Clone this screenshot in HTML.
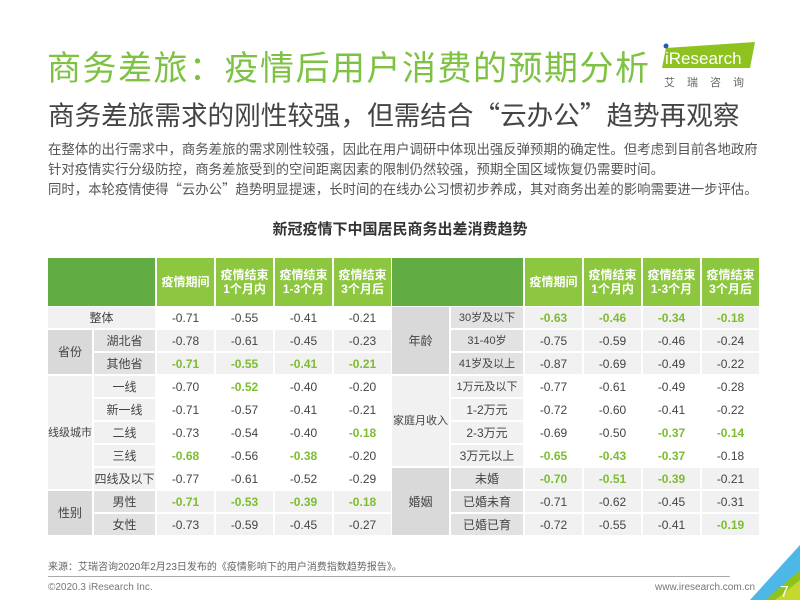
<!DOCTYPE html>
<html><head><meta charset="utf-8">
<style>
*{margin:0;padding:0;box-sizing:border-box}
body{width:800px;height:600px;position:relative;background:#fff;font-family:"Liberation Sans","Noto Sans CJK SC",sans-serif;overflow:hidden}
.a{position:absolute;white-space:nowrap}
.z{font-family:"Noto Sans CJK SC",sans-serif}
.c{position:absolute;display:flex;align-items:center;justify-content:center;text-align:center;font-size:12px;color:#444;line-height:14px;white-space:nowrap}
.g{color:#7cbd2f;font-weight:bold}
.h{color:#fff;font-weight:bold;font-size:12px}
.s{font-size:11px}
</style></head><body>
<div class="a z" style="left:47px;top:40px;font-size:34px;line-height:52px;color:#7dc242;letter-spacing:1.5px">商务差旅：疫情后用户消费的预期分析</div>
<div class="a z" style="left:48px;top:94px;font-size:26.6px;line-height:40px;color:#444">商务差旅需求的刚性较强，但需结合“云办公”趋势再观察</div>
<div class="a z" style="left:48px;top:138px;font-size:13.4px;color:#555;line-height:20px">在整体的出行需求中，商务差旅的需求刚性较强，因此在用户调研中体现出强反弹预期的确定性。但考虑到目前各地政府<br>针对疫情实行分级防控，商务差旅受到的空间距离因素的限制仍然较强，预期全国区域恢复仍需要时间。<br>同时，本轮疫情使得“云办公”趋势明显提速，长时间的在线办公习惯初步养成，其对商务出差的影响需要进一步评估。</div>
<div class="a" style="left:0;width:800px;text-align:center;top:218px;font-size:15px;font-weight:bold;color:#333">新冠疫情下中国居民商务出差消费趋势</div>
<svg class="a" style="left:660px;top:42px" width="100" height="30"><polygon points="6,6 95,0 90,26 2,26" fill="#8dc21f"/><circle cx="6" cy="4" r="2.5" fill="#1f5fa8"/><text x="5" y="22" font-family="Liberation Sans" font-size="17" fill="#fff">iResearch</text></svg>
<div class="a" style="left:664px;top:74px;font-size:11px;color:#666;letter-spacing:12px">艾瑞咨询</div>
<div id="t"></div>
<div class="a" style="left:48px;top:558px;font-size:10px;color:#666">来源：艾瑞咨询2020年2月23日发布的《疫情影响下的用户消费指数趋势报告》。</div>
<div class="a" style="left:48px;top:576px;width:682px;height:1px;background:#aaa"></div>
<div class="a" style="left:48px;top:582px;font-size:10px;color:#777">©2020.3 iResearch Inc.</div>
<div class="a" style="left:655px;top:582px;font-size:10px;color:#777">www.iresearch.com.cn</div>
<svg class="a" style="left:730px;top:545px" width="70" height="55"><polygon points="70,0 70,55 20,55" fill="#4db8e8"/><polygon points="70,25 70,55 35,55" fill="#8dc21f"/><polygon points="45,55 70,35 70,55" fill="#c5d82d"/><text x="50" y="52" font-family="Liberation Sans" font-size="16" fill="#fff">7</text></svg>
<script>
var t=document.getElementById('t'),h='';
function cell(x,y,w,hh,bg,txt,cls){h+='<div class="c '+(cls||'')+'" style="left:'+x+'px;top:'+y+'px;width:'+w+'px;height:'+hh+'px;background:'+bg+'">'+txt+'</div>';}
var top0=258,hh=48;
cell(48,top0,107,hh,'#62ad43','');
cell(392,top0,131,hh,'#62ad43','');
var L=[157,216,275,334],R=[525,584,643,702],W=57;
var hd=['疫情期间','疫情结束<br>1个月内','疫情结束<br>1-3个月','疫情结束<br>3个月后'];
for(var i=0;i<4;i++){cell(L[i],top0,W,hh,'#8dc63f',hd[i],'h');cell(R[i],top0,W,hh,'#8dc63f',hd[i],'h');}
var y0=307,P=23,RH=21;
function ry(i){return y0+i*P;}
function vals(xs,i,v,bg){for(var k=0;k<4;k++){var s=v[k],g=s[0]=='*';cell(xs[k],ry(i),W,RH,bg,g?s.slice(1):s,g?'g':'');}}
var left=[
['整体',null,['-0.71','-0.55','-0.41','-0.21'],'#fff'],
['湖北省','A',['-0.78','-0.61','-0.45','-0.23'],'#f1f1f1'],
['其他省','A',['*-0.71','*-0.55','*-0.41','*-0.21'],'#f1f1f1'],
['一线','B',['-0.70','*-0.52','-0.40','-0.20'],'#fff'],
['新一线','B',['-0.71','-0.57','-0.41','-0.21'],'#fff'],
['二线','B',['-0.73','-0.54','-0.40','*-0.18'],'#fff'],
['三线','B',['*-0.68','-0.56','*-0.38','-0.20'],'#fff'],
['四线及以下','B',['-0.77','-0.61','-0.52','-0.29'],'#fff'],
['男性','C',['*-0.71','*-0.53','*-0.39','*-0.18'],'#f1f1f1'],
['女性','C',['-0.73','-0.59','-0.45','-0.27'],'#f1f1f1']];
cell(48,ry(0),107,RH,'#f1f1f1','整体');
cell(48,ry(1),44,P+RH,'#d9d9d9','省份');
cell(48,ry(3),44,4*P+RH,'#f1f1f1','线级城市','s');
cell(48,ry(8),44,P+RH,'#d9d9d9','性别');
for(var i=0;i<10;i++){var r=left[i];if(r[1]){var gb=(r[1]=='B')?'#f1f1f1':'#e2e2e2';cell(94,ry(i),61,RH,gb,r[0]);}vals(L,i,r[2],r[3]);}
var right=[
['30岁及以下',['*-0.63','*-0.46','*-0.34','*-0.18'],'#f1f1f1','A'],
['31-40岁',['-0.75','-0.59','-0.46','-0.24'],'#f1f1f1','A'],
['41岁及以上',['-0.87','-0.69','-0.49','-0.22'],'#f1f1f1','A'],
['1万元及以下',['-0.77','-0.61','-0.49','-0.28'],'#fff','B'],
['1-2万元',['-0.72','-0.60','-0.41','-0.22'],'#fff','B'],
['2-3万元',['-0.69','-0.50','*-0.37','*-0.14'],'#fff','B'],
['3万元以上',['*-0.65','*-0.43','*-0.37','-0.18'],'#fff','B'],
['未婚',['*-0.70','*-0.51','*-0.39','-0.21'],'#f1f1f1','C'],
['已婚未育',['-0.71','-0.62','-0.45','-0.31'],'#f1f1f1','C'],
['已婚已育',['-0.72','-0.55','-0.41','*-0.19'],'#f1f1f1','C']];
cell(392,ry(0),57,2*P+RH,'#d9d9d9','年龄');
cell(392,ry(3),57,3*P+RH,'#f1f1f1','家庭月收入','s');
cell(392,ry(7),57,2*P+RH,'#d9d9d9','婚姻');
for(var i=0;i<10;i++){var r=right[i];cell(451,ry(i),72,RH,r[3]=='B'?'#f1f1f1':'#e2e2e2',r[0],r[0].length>5?'s':'');vals(R,i,r[1],r[2]);}
t.innerHTML=h;
</script>
</body></html>
